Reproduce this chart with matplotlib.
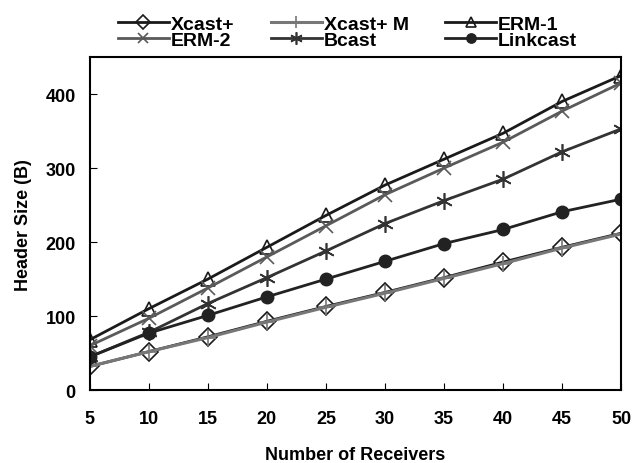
import matplotlib.pyplot as plt

plt.rcParams['font.family'] = ['Liberation Sans', 'DejaVu Sans']
plt.rcParams['font.weight'] = 'bold'

receivers = [5, 10, 15, 20, 25, 30, 35, 40, 45, 50]
xcast = [32, 52, 72, 93, 113, 132, 152, 173, 193, 212]
xcast_m = [32, 52, 71, 92, 112, 131, 151, 171, 192, 211]
erm1 = [68, 110, 150, 193, 236, 277, 312, 347, 390, 425]
erm2 = [60, 97, 138, 180, 222, 264, 300, 335, 377, 415]
bcast = [45, 78, 117, 152, 188, 225, 256, 285, 322, 353]
linkcast = [45, 77, 101, 126, 150, 174, 198, 217, 241, 258]

fig = plt.figure(figsize=(6.32, 4.64), dpi=100)
ax = fig.add_axes([0.142, 0.157, 0.841, 0.718])

l1, = ax.plot(receivers, xcast, color='#1a1a1a', lw=2, marker='D', ms=9,
              mfc='none', mec='#1a1a1a', mew=1.2, label='Xcast+')
l2, = ax.plot(receivers, xcast_m, color='#777777', lw=2.2, marker='+', ms=12,
              mew=1.2, label='Xcast+ M')
l3, = ax.plot(receivers, erm1, color='#1a1a1a', lw=2, marker='^', ms=10,
              mfc='none', mew=1.2, label='ERM-1')
l4, = ax.plot(receivers, erm2, color='#5a5a5a', lw=2, marker='x', ms=10,
              mew=1.2, label='ERM-2')
l5, = ax.plot(receivers, bcast, color='#333333', lw=2, marker=(6, 2, 0), ms=12,
              mew=1.2, label='Bcast')
l6, = ax.plot(receivers, linkcast, color='#222222', lw=2, marker='o', ms=9,
              label='Linkcast')

ax.set_xlim(5, 50)
ax.set_ylim(0, 450)
ax.set_xticks(receivers)
ax.set_yticks([0, 100, 200, 300, 400])
ax.tick_params(direction='in', length=5, labelsize=13, pad=10)
ax.tick_params(axis='x', pad=14)
for s in ax.spines.values():
    s.set_linewidth(1.5)

ax.set_xlabel('Number of Receivers', fontsize=13, fontweight='bold', labelpad=14)
ax.set_ylabel('Header Size (B)', fontsize=13, fontweight='bold', labelpad=10)

# legend filled row by row like the original
handles = [l1, l4, l2, l5, l3, l6]
fig.legend(handles=handles, labels=[h.get_label() for h in handles],
           loc='upper center', bbox_to_anchor=(0.55, 1.002), ncol=3,
           frameon=False, fontsize=14, handlelength=2.6, handletextpad=0.1,
           columnspacing=1.9, labelspacing=-0.1, markerscale=0.75)

fig.savefig('out.png', dpi=100)
